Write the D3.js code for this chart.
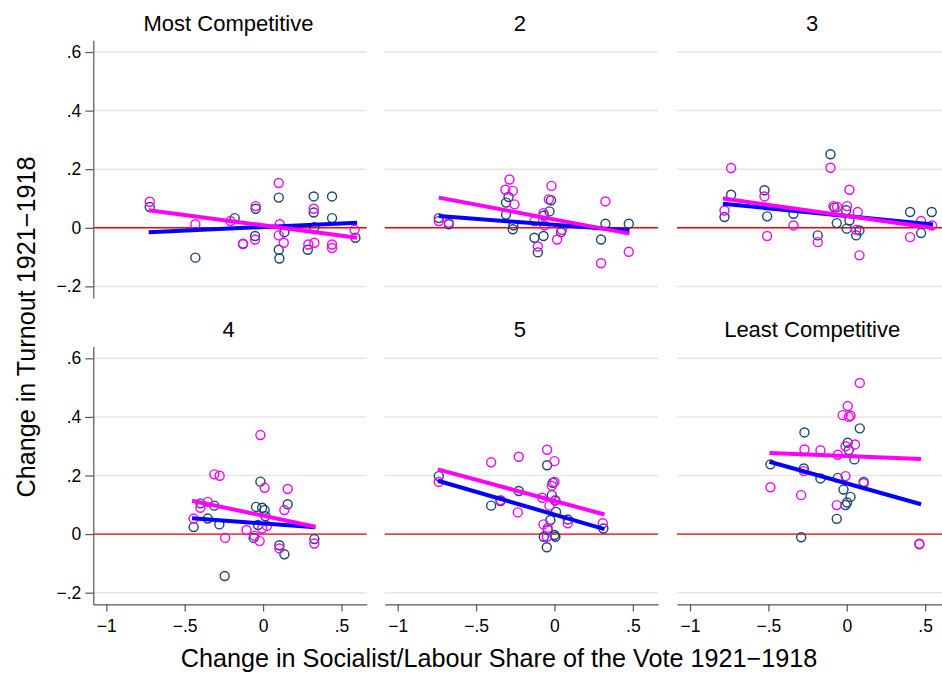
<!DOCTYPE html>
<html>
<head>
<meta charset="utf-8">
<script src="https://cdn.jsdelivr.net/npm/d3@7"></script>
<style>
  html, body { margin: 0; padding: 0; background: #ffffff; }
  svg { display: block; font-family: "Liberation Sans", Arial, Helvetica, sans-serif; }
</style>
</head>
<body>
<svg id="chart" width="942" height="677"></svg>
<script>
// Panel headings, in reading order
const panelTitles = ["Most Competitive", "2", "3", "4", "5", "Least Competitive"];

// Axis ticks and their printed labels
const xTicks = [-1, -0.5, 0, 0.5];
const xTickLabels = ["\u22121", "\u2212.5", "0", ".5"];
const yTicks = [-0.2, 0, 0.2, 0.4, 0.6];
const yTickLabels = ["\u2212.2", "0", ".2", ".4", ".6"];

// Observations per panel: [change in socialist/labour share, change in turnout]
// Dark (navy) series
const navy1 = [[-0.723,0.071],[-0.432,-0.102],[-0.181,0.033],[-0.128,-0.054],[-0.047,0.065],[-0.051,-0.028],[0.100,0.103],[0.100,-0.075],[0.104,-0.105],[0.136,-0.015],[0.323,0.107],[0.323,0.052],[0.327,0.002],[0.285,-0.075],[0.440,0.107],[0.440,0.033],[0.589,-0.034]];
const navy2 = [[-0.738,0.033],[-0.674,0.012],[-0.309,0.086],[-0.293,0.105],[-0.309,0.045],[-0.266,-0.005],[-0.262,0.008],[-0.128,-0.034],[-0.106,-0.084],[-0.070,-0.028],[-0.068,0.042],[-0.032,0.056],[-0.022,0.094],[0.042,-0.015],[0.297,-0.040],[0.325,0.014],[0.474,0.014]];
const navy3 = [[-0.780,0.037],[-0.738,0.113],[-0.525,0.128],[-0.508,0.039],[-0.340,0.048],[-0.185,-0.026],[-0.104,0.251],[-0.078,0.069],[-0.064,0.016],[0.000,-0.003],[0.017,0.025],[0.060,-0.026],[0.081,-0.009],[-0.004,0.060],[0.404,0.054],[0.474,-0.018],[0.542,0.054]];
const navy4 = [[-0.443,0.024],[-0.400,0.105],[-0.353,0.053],[-0.311,0.097],[-0.279,0.033],[-0.245,-0.143],[-0.060,-0.013],[-0.045,0.093],[-0.017,0.179],[-0.006,0.090],[0.010,0.082],[0.015,0.061],[-0.032,0.031],[0.104,-0.038],[0.136,-0.069],[0.157,0.102],[0.327,-0.017]];
const navy5 = [[-0.738,0.198],[-0.404,0.097],[-0.344,0.113],[-0.228,0.147],[-0.047,0.235],[-0.017,0.133],[-0.011,0.175],[0.010,0.076],[-0.026,0.048],[-0.068,-0.009],[-0.049,-0.045],[0.000,-0.003],[0.006,-0.009],[-0.043,0.014],[0.085,0.050],[0.312,0.019],[0.004,0.114]];
const navy6 = [[-0.487,0.238],[-0.270,0.347],[-0.274,0.224],[-0.168,0.190],[-0.291,-0.011],[-0.064,0.052],[-0.057,0.192],[-0.021,0.152],[-0.008,0.099],[0.002,0.108],[0.024,0.127],[0.006,0.312],[0.013,0.287],[0.049,0.255],[0.083,0.361],[0.108,0.178],[0.463,-0.035]];

// Magenta series
const pink1 = [[-0.723,0.089],[-0.432,0.012],[-0.208,0.023],[-0.128,-0.056],[-0.047,0.074],[-0.051,-0.040],[0.100,0.153],[0.106,0.012],[0.100,-0.026],[0.132,-0.051],[0.323,0.065],[0.289,-0.057],[0.327,-0.051],[0.440,-0.057],[0.440,-0.069],[0.584,-0.007]];
const pink2 = [[-0.738,0.023],[-0.674,0.017],[-0.287,0.165],[-0.313,0.130],[-0.266,0.126],[-0.255,0.080],[-0.106,-0.064],[-0.128,0.023],[-0.070,0.050],[-0.064,0.008],[-0.019,0.143],[-0.036,0.097],[0.017,-0.040],[0.047,-0.007],[0.325,0.090],[0.297,-0.121],[0.474,-0.082]];
const pink3 = [[-0.780,0.059],[-0.738,0.204],[-0.525,0.107],[-0.508,-0.028],[-0.340,0.008],[-0.185,-0.049],[-0.104,0.205],[-0.085,0.074],[-0.062,0.071],[0.002,0.074],[0.017,0.130],[0.070,0.054],[0.060,-0.007],[0.081,-0.094],[0.404,-0.032],[0.474,0.023],[0.544,0.008]];
const pink4 = [[-0.443,0.053],[-0.400,0.090],[-0.353,0.110],[-0.311,0.204],[-0.277,0.199],[-0.242,-0.013],[-0.106,0.014],[-0.055,-0.006],[-0.022,-0.024],[-0.017,0.338],[0.010,0.158],[-0.006,0.019],[0.025,0.028],[0.104,-0.049],[0.136,0.082],[0.157,0.154],[0.327,-0.032]];
const pink5 = [[-0.738,0.178],[-0.404,0.245],[-0.344,0.116],[-0.228,0.264],[-0.234,0.074],[-0.047,0.288],[0.000,0.249],[0.000,0.178],[-0.017,0.165],[-0.079,0.124],[-0.032,0.097],[0.006,0.116],[-0.070,0.033],[-0.043,0.021],[-0.049,-0.009],[0.085,0.037],[0.308,0.037]];
const pink6 = [[-0.487,0.160],[-0.270,0.289],[-0.274,0.215],[-0.291,0.133],[-0.168,0.286],[-0.057,0.271],[-0.064,0.099],[-0.008,0.198],[-0.008,0.300],[0.053,0.306],[-0.026,0.406],[0.024,0.404],[0.006,0.437],[0.013,0.400],[0.083,0.516],[0.108,0.173],[0.463,-0.033]];

// Fitted lines per panel: [xStart, yStart, xEnd, yEnd]
const navyFits = [[-0.73,-0.015,0.60,0.017],[-0.738,0.040,0.478,-0.009],[-0.79,0.082,0.55,0.011],[-0.453,0.054,0.334,0.023],[-0.744,0.182,0.319,0.017],[-0.493,0.247,0.474,0.102]];
const pinkFits = [[-0.73,0.060,0.60,-0.034],[-0.738,0.103,0.478,-0.020],[-0.79,0.100,0.55,-0.001],[-0.453,0.114,0.334,0.025],[-0.744,0.221,0.319,0.067],[-0.493,0.277,0.474,0.256]];

const navyPanels = [navy1, navy2, navy3, navy4, navy5, navy6];
const pinkPanels = [pink1, pink2, pink3, pink4, pink5, pink6];

// Layout
const panelLefts = [93.3, 384.7, 677];
const panelTops = [40.3, 346.6];
const panelW = 273.4, panelH = 257.8;
const NAVY = "#1a476f", MAGENTA = "#ff00ff", BLUE = "#0000ff";

const svg = d3.select("#chart");

const x = d3.scaleLinear().domain([-1.083, 0.661]).range([0, panelW]);
const y = d3.scaleLinear().domain([-0.24, 0.64]).range([panelH, 0]);

panelTitles.forEach((title, i) => {
  const col = i % 3, row = Math.floor(i / 3);
  const g = svg.append("g")
    .attr("transform", `translate(${panelLefts[col]},${panelTops[row]})`);

  // horizontal grid
  g.append("g").selectAll("line").data(yTicks).join("line")
    .attr("x1", 0).attr("x2", panelW)
    .attr("y1", d => y(d)).attr("y2", d => y(d))
    .attr("stroke", "#e6e6e6").attr("stroke-width", 1.5);

  // reference line at zero
  g.append("line")
    .attr("x1", 0).attr("x2", panelW)
    .attr("y1", y(0)).attr("y2", y(0))
    .attr("stroke", "#ff0000").attr("stroke-width", 1.4);

  // y axis on the left column only
  if (col === 0) {
    const ya = g.append("g")
      .call(d3.axisLeft(y).tickValues(yTicks).tickSize(8).tickPadding(4).tickSizeOuter(0)
        .tickFormat((d, k) => yTickLabels[k]));
    ya.select(".domain").attr("stroke", "#555").attr("stroke-width", 1.2);
    ya.selectAll(".tick line").attr("stroke", "#555").attr("stroke-width", 1.2);
    ya.selectAll(".tick text").attr("fill", "#000").style("font-size", "17.5px")
      .style("font-family", "'Liberation Sans', Arial, sans-serif");
  }

  // x axis on the bottom row only
  if (row === 1) {
    const xa = g.append("g").attr("transform", `translate(0,${panelH})`)
      .call(d3.axisBottom(x).tickValues(xTicks).tickSize(7).tickPadding(8).tickSizeOuter(0)
        .tickFormat((d, k) => xTickLabels[k]));
    xa.select(".domain").attr("stroke", "#555").attr("stroke-width", 1.2);
    xa.selectAll(".tick line").attr("stroke", "#555").attr("stroke-width", 1.2);
    xa.selectAll(".tick text").attr("fill", "#000").style("font-size", "17.5px")
      .style("font-family", "'Liberation Sans', Arial, sans-serif");
  }

  // scatter points
  g.append("g").selectAll("circle").data(navyPanels[i]).join("circle")
    .attr("cx", d => x(d[0])).attr("cy", d => y(d[1])).attr("r", 4.5)
    .attr("fill", "none").attr("stroke", NAVY).attr("stroke-width", 1.4);
  g.append("g").selectAll("circle").data(pinkPanels[i]).join("circle")
    .attr("cx", d => x(d[0])).attr("cy", d => y(d[1])).attr("r", 4.5)
    .attr("fill", "none").attr("stroke", MAGENTA).attr("stroke-width", 1.4);

  // fitted lines
  const nf = navyFits[i], pf = pinkFits[i];
  g.append("line")
    .attr("x1", x(nf[0])).attr("y1", y(nf[1])).attr("x2", x(nf[2])).attr("y2", y(nf[3]))
    .attr("stroke", BLUE).attr("stroke-width", 4);
  g.append("line")
    .attr("x1", x(pf[0])).attr("y1", y(pf[1])).attr("x2", x(pf[2])).attr("y2", y(pf[3]))
    .attr("stroke", MAGENTA).attr("stroke-width", 4);

  // panel heading
  svg.append("text")
    .attr("x", panelLefts[col] + panelW / 2 - 1.5)
    .attr("y", panelTops[row] - 9.3)
    .attr("text-anchor", "middle")
    .style("font-size", "22px")
    .attr("fill", "#000")
    .text(title);
});

// axis titles
svg.append("text")
  .attr("x", 499).attr("y", 667)
  .attr("text-anchor", "middle")
  .style("font-size", "25.2px")
  .attr("fill", "#000")
  .text("Change in Socialist/Labour Share of the Vote 1921\u22121918");

svg.append("text")
  .attr("transform", "translate(35,327) rotate(-90)")
  .attr("text-anchor", "middle")
  .style("font-size", "25.2px")
  .attr("fill", "#000")
  .text("Change in Turnout 1921\u22121918");
</script>
</body>
</html>
